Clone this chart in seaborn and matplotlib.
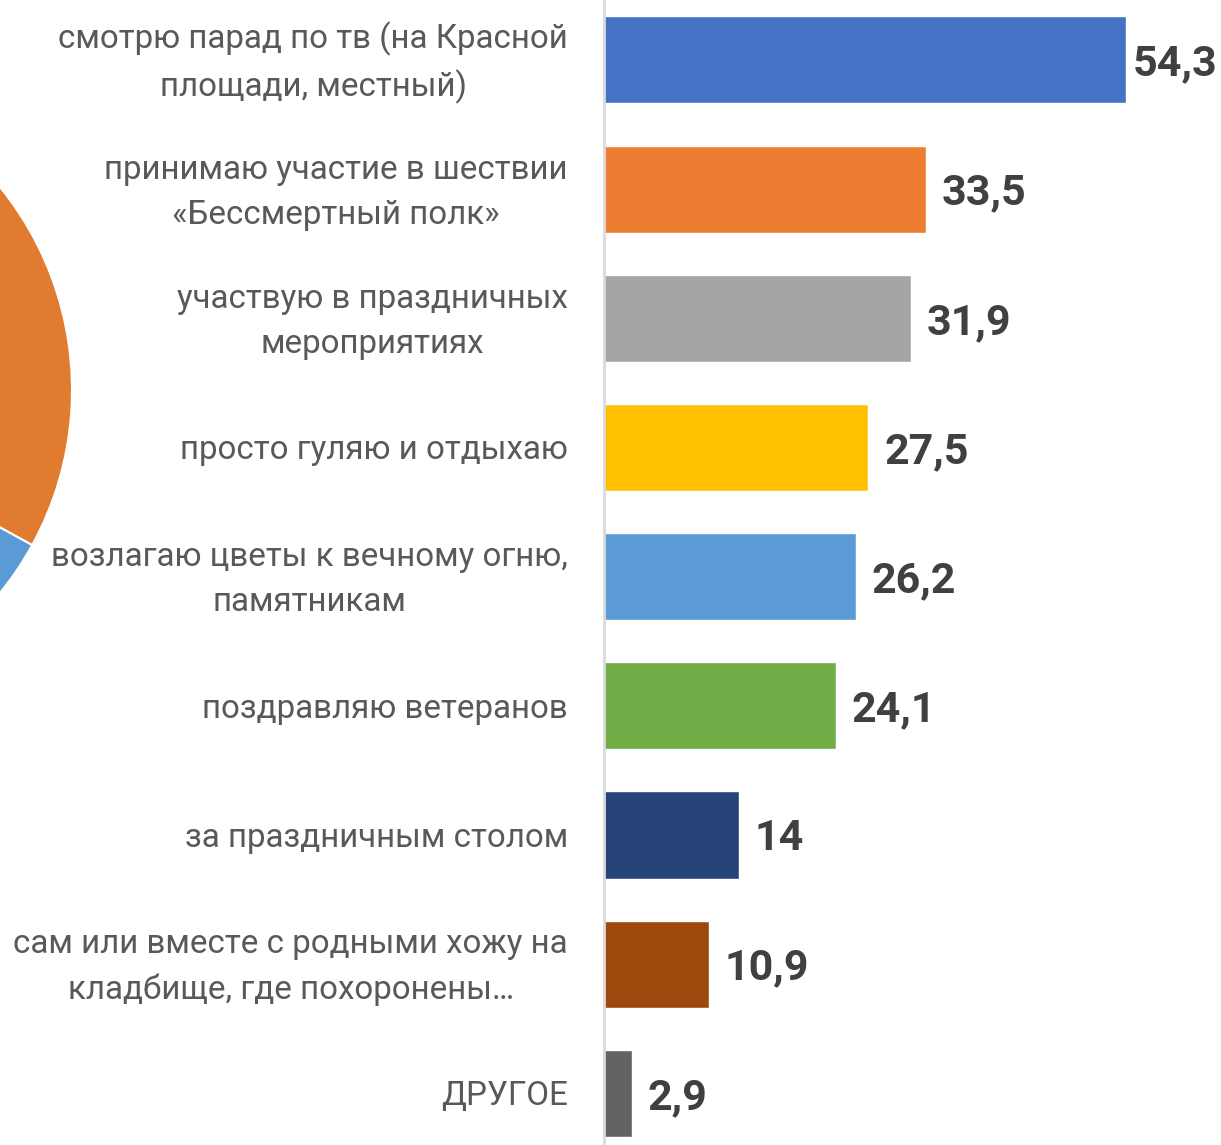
import matplotlib
matplotlib.use("Agg")
import matplotlib.pyplot as plt
from matplotlib.patches import Wedge
import seaborn as sns

categories = [
    "смотрю парад по тв (на Красной\nплощади, местный)",
    "принимаю участие в шествии\n«Бессмертный полк»",
    "участвую в праздничных\nмероприятиях",
    "просто гуляю и отдыхаю",
    "возлагаю цветы к вечному огню,\nпамятникам",
    "поздравляю ветеранов",
    "за праздничным столом",
    "сам или вместе с родными хожу на\nкладбище, где похоронены…",
    "ДРУГОЕ",
]
values = [54.3, 33.5, 31.9, 27.5, 26.2, 24.1, 14, 10.9, 2.9]
value_labels = ["54,3", "33,5", "31,9", "27,5", "26,2", "24,1", "14", "10,9", "2,9"]
colors = ["#4472C4", "#ED7D31", "#A5A5A5", "#FFC000", "#5B9BD5",
          "#70AD47", "#264478", "#9E480E", "#636363"]

sns.set_theme(style="white")
plt.rcParams['font.family'] = ['Roboto', 'DejaVu Sans']

W, H = 1221, 1145
fig = plt.figure(figsize=(W / 100, H / 100), dpi=100)

# decorative pie fragment at the left edge (cropped from a neighbouring chart)
bg = fig.add_axes([0, 0, 1, 1], zorder=0)
bg.set_xlim(0, W)
bg.set_ylim(0, H)
bg.axis("off")
cx, cy, r = -250, 755, 322
bg.add_patch(Wedge((cx, cy), r, -28.8, 70, facecolor="#E07B30", edgecolor="white", lw=1.5))
bg.add_patch(Wedge((cx, cy), r, -40, -28.8, facecolor="#5B9BD5", edgecolor="white", lw=1.5))
bg.add_patch(Wedge((cx, cy), r, -41, -40, facecolor="#264478", edgecolor="white", lw=0.8))

ax = fig.add_axes([604 / W, 0, 1 - 604 / W, 1], zorder=1)
ax.patch.set_alpha(0)
sns.barplot(x=values, y=categories, hue=categories, palette=colors, legend=False,
            orient="h", width=0.674, ax=ax, saturation=1)
ax.set_xlim(0, 617 / 9.613)
ax.set_ylim(8.40, -0.464)
ax.set_xticks([])
ax.set_yticks([])
ax.set_xlabel("")
ax.set_ylabel("")
for s in ["top", "right", "bottom"]:
    ax.spines[s].set_visible(False)
ax.spines["left"].set_color("#D9D9D9")
ax.spines["left"].set_linewidth(2)

for i, cat in enumerate(categories):
    ax.annotate(cat, xy=(0, i), xycoords=("axes fraction", "data"),
                xytext=(-36, -3), textcoords="offset pixels",
                ha="right", va="center", multialignment="center",
                fontsize=23.9, color="#595959", linespacing=1.52,
                annotation_clip=False)

fig.canvas.draw()
renderer = fig.canvas.get_renderer()
ax_right_px = ax.transAxes.transform((1, 0))[0]
for i, (v, lab) in enumerate(zip(values, value_labels)):
    t = ax.annotate(lab, xy=(v, i), xycoords="data", xytext=(16, -4),
                    textcoords="offset pixels", ha="left", va="center",
                    fontsize=31, fontweight="bold", color="#404040",
                    annotation_clip=False)
    bb = t.get_window_extent(renderer)
    if bb.x1 > ax_right_px - 3:
        t.set_position((16 - (bb.x1 - ax_right_px + 4), -4))

fig.savefig("out.png", dpi=100)
